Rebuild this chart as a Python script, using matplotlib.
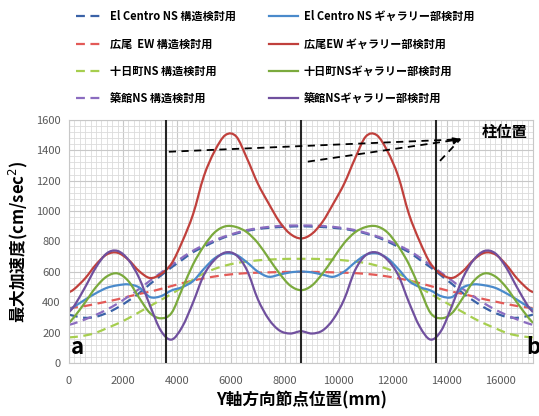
import numpy as np
import matplotlib
matplotlib.use('Agg')
import matplotlib.pyplot as plt
from matplotlib.path import Path
from matplotlib.patches import PathPatch
from matplotlib.lines import Line2D

plt.rcParams['font.family'] = ['Noto Sans CJK JP', 'DejaVu Sans']

# 節点位置 (mm)
x = [0, 200, 600, 1000, 1400, 1800, 2200, 2600, 3000, 3400, 3800, 4200, 4600, 5000, 5400,
     5800, 6200, 6600, 7000, 7400, 7800, 8200, 8600, 9000, 9400, 9800, 10200, 10600, 11000,
     11400, 11800, 12200, 12600, 13000, 13400, 13800, 14200, 14600, 15000, 15400, 15800,
     16200, 16600, 17000, 17200]

# 構造検討用 (破線)
elc_str = [320, 310, 298, 305, 330, 365, 410, 460, 520, 575, 630, 680, 730, 765, 800, 830,
           852, 870, 882, 890, 895, 898, 900, 898, 895, 890, 882, 870, 852, 830, 800, 765,
           730, 680, 630, 575, 520, 460, 410, 365, 330, 305, 298, 310, 320]
hir_str = [362, 366, 376, 390, 405, 420, 438, 455, 470, 488, 507, 526, 543, 558, 570, 580,
           587, 592, 595, 597, 599, 600, 600, 600, 599, 597, 595, 592, 587, 580, 570, 558,
           543, 526, 507, 488, 470, 455, 438, 420, 405, 390, 376, 366, 362]
tok_str = [170, 172, 182, 200, 230, 260, 295, 335, 375, 415, 455, 500, 550, 590, 620, 642,
           658, 668, 676, 681, 684, 686, 686, 686, 684, 681, 676, 668, 658, 642, 620, 590,
           550, 500, 455, 415, 375, 335, 295, 260, 230, 200, 182, 172, 170]
tsu_str = [252, 262, 288, 318, 352, 392, 438, 488, 542, 594, 645, 695, 740, 776, 808, 835,
           857, 875, 887, 896, 902, 905, 905, 905, 902, 896, 887, 875, 857, 835, 808, 776,
           740, 695, 645, 594, 542, 488, 438, 392, 352, 318, 288, 262, 252]

# ギャラリー部検討用 (実線)
elc_gal = [352, 372, 418, 460, 495, 512, 518, 498, 435, 440, 478, 500, 540, 620, 690, 722,
           712, 662, 602, 568, 582, 597, 602, 597, 582, 568, 602, 662, 712, 722, 690, 620,
           540, 500, 478, 440, 435, 498, 518, 512, 495, 460, 418, 372, 352]
hir_gal = [466, 488, 558, 648, 715, 726, 680, 605, 560, 585, 655, 800, 980, 1230, 1395, 1500,
           1490, 1345, 1180, 1050, 930, 850, 820, 850, 930, 1050, 1180, 1345, 1490, 1500, 1395,
           1230, 980, 800, 655, 585, 560, 605, 680, 726, 715, 648, 558, 488, 466]
tok_gal = [265, 305, 400, 500, 570, 590, 540, 430, 330, 295, 330, 490, 650, 770, 860, 900,
           895, 860, 790, 690, 590, 510, 480, 510, 590, 690, 790, 860, 895, 900, 860, 770,
           650, 490, 330, 295, 330, 430, 540, 590, 570, 500, 400, 305, 265]
tsu_gal = [335, 378, 500, 630, 722, 738, 680, 560, 380, 215, 155, 240, 400, 580, 680, 728,
           710, 610, 420, 290, 215, 195, 210, 195, 215, 290, 420, 610, 710, 728, 680, 580,
           400, 240, 155, 215, 380, 560, 680, 738, 722, 630, 500, 378, 335]

col_pos = [3600, 8600, 13600]

labels = ['El Centro NS 構造検討用', '広尾  EW 構造検討用', '十日町NS 構造検討用', '築館NS 構造検討用',
          'El Centro NS ギャラリー部検討用', '広尾EW ギャラリー部検討用', '十日町NSギャラリー部検討用',
          '築館NSギャラリー部検討用']


def smooth_line(ax, xs, ys, **kw):
    # Excelの平滑線のように点を Bezier 曲線でつなぐ
    xs = np.asarray(xs, float)
    ys = np.asarray(ys, float)
    verts = [(xs[0], ys[0])]
    codes = [Path.MOVETO]
    n = len(xs)
    for i in range(n - 1):
        i0 = max(i - 1, 0)
        i3 = min(i + 2, n - 1)
        c1 = (xs[i] + (xs[i + 1] - xs[i0]) / 6, ys[i] + (ys[i + 1] - ys[i0]) / 6)
        c2 = (xs[i + 1] - (xs[i3] - xs[i]) / 6, ys[i + 1] - (ys[i3] - ys[i]) / 6)
        verts += [c1, c2, (xs[i + 1], ys[i + 1])]
        codes += [Path.CURVE4] * 3
    patch = PathPatch(Path(verts, codes), fill=False, capstyle='butt', **kw)
    ax.add_patch(patch)
    return Line2D([], [], color=kw.get('edgecolor'), lw=kw.get('lw'),
                  linestyle=kw.get('linestyle', '-'))


fig = plt.figure(figsize=(5.39, 4.16), dpi=100)
ax = fig.add_axes([0.128, 0.127, 0.861, 0.585])

lw = 1.6
dash = (0, (4, 2.5))
handles = []
handles.append(smooth_line(ax, x, elc_str, edgecolor='#3A62A7', lw=lw, linestyle=dash))
handles.append(smooth_line(ax, x, hir_str, edgecolor='#E35A57', lw=lw, linestyle=dash))
handles.append(smooth_line(ax, x, tok_str, edgecolor='#A6CE4E', lw=lw, linestyle=dash))
handles.append(smooth_line(ax, x, tsu_str, edgecolor='#8B6CC0', lw=lw, linestyle=dash))
handles.append(smooth_line(ax, x, elc_gal, edgecolor='#4A8ACB', lw=lw))
handles.append(smooth_line(ax, x, hir_gal, edgecolor='#C0403C', lw=lw))
handles.append(smooth_line(ax, x, tok_gal, edgecolor='#7BAA3D', lw=lw))
handles.append(smooth_line(ax, x, tsu_gal, edgecolor='#70509E', lw=lw))

for c in col_pos:
    ax.axvline(c, color='#262626', lw=1.5, zorder=5)

# 柱位置の注記
tip = (14600, 1480)
for sx, sy in [(3700, 1390), (8850, 1325), (13750, 1330)]:
    ax.plot([sx, tip[0] - 100], [sy, tip[1] - 8], color='black', lw=1.3, linestyle=(0, (4, 3)), zorder=6)
ax.annotate('', xy=tip, xytext=(14200, 1460),
            arrowprops=dict(arrowstyle='-|>', color='black', lw=1.2, mutation_scale=10))
ax.text(16150, 1520, '柱位置', fontsize=11, fontweight='bold', ha='center', va='center')

ax.text(80, 30, 'a', fontsize=16, fontweight='bold', ha='left', va='bottom')
ax.text(16930, 30, 'b', fontsize=16, fontweight='bold', ha='left', va='bottom', clip_on=False)

ax.set_xlim(0, 17200)
ax.set_ylim(0, 1600)
ax.set_xticks(range(0, 17000, 2000))
ax.set_yticks(range(0, 1601, 200))
ax.set_xticks(range(0, 17201, 200), minor=True)
ax.set_yticks(range(0, 1601, 40), minor=True)
ax.grid(True, which='major', color='#C8C8C8', lw=0.8)
ax.grid(True, which='minor', color='#DCDCDC', lw=0.6)
ax.set_axisbelow(True)
ax.tick_params(which='both', length=0, labelsize=8, labelcolor='#595959', pad=6)
ax.tick_params(axis='x', pad=9)
for s in ax.spines.values():
    s.set_color('#C8C8C8')

ax.set_xlabel('Y軸方向節点位置(mm)', fontsize=12, fontweight='bold', labelpad=4)
ax.set_ylabel('最大加速度(cm/sec$^2$)', fontsize=12, fontweight='bold', labelpad=4)

leg = fig.legend(handles, labels, ncol=2, loc='upper center',
                 bbox_to_anchor=(0.51, 1.0), frameon=False, labelspacing=1.3,
                 handlelength=2.6, handletextpad=0.5, columnspacing=3.0,
                 prop={'weight': 'bold', 'size': 8})

fig.savefig('out.png', dpi=100)
